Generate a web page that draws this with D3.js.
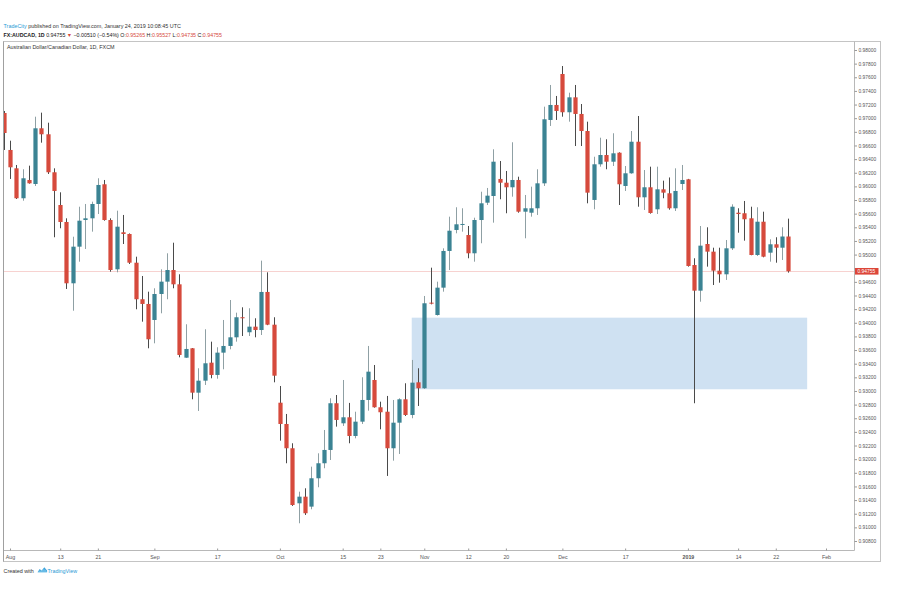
<!DOCTYPE html>
<html><head><meta charset="utf-8">
<script src="https://cdnjs.cloudflare.com/ajax/libs/d3/7.8.5/d3.min.js"></script>
<style>
body{margin:0;background:#fff}
svg{display:block}
text{font-family:"Liberation Sans",Arial,sans-serif}
</style>
</head><body>
<svg id="chart" width="900" height="600"></svg>
<script>
// ---------- DATA (AUDCAD daily, FXCM) ----------
const firstDay = "2018-07-31";
const lastDay = "2019-02-01";
const holidays = ["2018-12-25", "2019-01-01"];

const opens = [
0.97076,
0.96534,0.96265,0.95826,0.96094,0.96035,0.96852,0.96764,0.96207,0.95727,0.95478,
0.94579,0.95116,0.95507,0.95532,0.95742,0.96031,0.95507,0.94784,0.95327,0.95302,
0.94881,0.94345,0.94276,0.94041,0.94422,0.94603,0.94774,0.94564,0.93488,0.93626,
0.92975,0.93151,0.93415,0.93235,0.93562,0.93660,0.93787,0.94081,0.93861,0.93943,
0.93894,0.94452,0.93972,0.92828,0.92516,0.92160,0.91353,0.91450,0.91304,0.91720,
0.91940,0.92135,0.92820,0.92526,0.92614,0.92340,0.92550,0.92868,0.93161,0.92761,
0.92696,0.92160,0.92535,0.92878,0.92648,0.93127,0.93040,0.94295,0.94114,0.94515,
0.95053,0.95361,0.95444,0.95287,0.95019,0.95507,0.95761,0.95859,0.96109,0.96054,
0.95987,0.96094,0.95629,0.95614,0.95679,0.96045,0.96974,0.97194,0.97648,0.97087,
0.97306,0.97062,0.96812,0.95801,0.96324,0.96460,0.96362,0.96494,0.96006,0.96192,
0.96655,0.95840,0.95987,0.95664,0.95957,0.95899,0.95679,0.96035,0.96104,0.94847,
0.94471,0.95155,0.95043,0.94764,0.94711,0.95092,0.95614,0.95606,0.95532,0.94994,
0.95482,0.95028,0.95151,0.95101,0.95265
];
const highs = [
0.97106,
0.96670,0.96314,0.96251,0.96304,0.97022,0.97081,0.96934,0.96265,0.95913,0.95532,
0.95262,0.95702,0.95742,0.95776,0.96119,0.96094,0.95532,0.95644,0.95581,0.95310,
0.94969,0.94686,0.94456,0.94506,0.94784,0.95019,0.95174,0.94711,0.93978,0.93630,
0.93333,0.93905,0.93723,0.93641,0.94041,0.94334,0.94148,0.94227,0.94213,0.94066,
0.94911,0.94740,0.94081,0.93073,0.92663,0.92233,0.91523,0.91573,0.91890,0.92086,
0.92428,0.92893,0.92941,0.93161,0.92825,0.92696,0.93201,0.93660,0.93381,0.92843,
0.92927,0.92868,0.92893,0.93113,0.93455,0.93333,0.94393,0.94808,0.94603,0.95092,
0.95556,0.95694,0.95679,0.95419,0.95541,0.95922,0.95977,0.96544,0.96372,0.96226,
0.96647,0.96142,0.95874,0.95996,0.96251,0.97169,0.97487,0.97326,0.97765,0.97374,
0.97487,0.97208,0.96949,0.96435,0.96714,0.96691,0.96779,0.96500,0.96299,0.96812,
0.97032,0.96240,0.96289,0.96289,0.96084,0.96131,0.96265,0.96314,0.96110,0.94946,
0.95419,0.95400,0.95101,0.95101,0.95214,0.95737,0.95679,0.95786,0.95702,0.95694,
0.95629,0.95224,0.95254,0.95400,0.95527
];
const lows = [
0.96534,
0.96109,0.95815,0.95790,0.96040,0.96006,0.96641,0.96182,0.95254,0.95386,0.94496,
0.94177,0.94896,0.95082,0.95336,0.95595,0.95497,0.94749,0.94740,0.95155,0.94862,
0.94198,0.94016,0.93626,0.93699,0.94139,0.94345,0.94506,0.93494,0.93485,0.92878,
0.92707,0.93088,0.93186,0.93180,0.93318,0.93611,0.93723,0.93806,0.93806,0.93787,
0.93821,0.93965,0.93127,0.92271,0.91940,0.91314,0.91060,0.91182,0.91265,0.91588,
0.91867,0.91988,0.92477,0.92487,0.92233,0.92306,0.92516,0.92711,0.92755,0.92438,
0.91754,0.91978,0.92076,0.92633,0.92600,0.92780,0.93029,0.94270,0.94105,0.94456,
0.94774,0.95312,0.95336,0.94946,0.94896,0.95166,0.95727,0.95468,0.95811,0.95606,
0.95849,0.95614,0.95239,0.95556,0.95581,0.96006,0.96886,0.96974,0.97022,0.96949,
0.96592,0.96592,0.95752,0.95664,0.96289,0.96251,0.96299,0.95727,0.95933,0.96185,
0.95702,0.95654,0.95600,0.95595,0.95826,0.95658,0.95639,0.95947,0.94823,0.92820,
0.94309,0.94823,0.94554,0.94588,0.94628,0.95067,0.95321,0.95204,0.94990,0.94979,
0.94960,0.94896,0.94881,0.94921,0.94735
];
const closes = [
0.96783,
0.96280,0.95826,0.96119,0.96045,0.96852,0.96764,0.96207,0.95933,0.95478,0.94579,
0.95116,0.95497,0.95532,0.95742,0.96021,0.95507,0.94774,0.95409,0.95302,0.94881,
0.94345,0.94276,0.93758,0.94422,0.94603,0.94774,0.94564,0.93528,0.93616,0.92975,
0.93151,0.93406,0.93235,0.93562,0.93660,0.93787,0.94081,0.94066,0.93943,0.93894,
0.94452,0.93972,0.93224,0.92516,0.92160,0.91328,0.91450,0.91207,0.91720,0.91940,
0.92135,0.92820,0.92575,0.92614,0.92340,0.92550,0.92868,0.93283,0.92761,0.92688,
0.92160,0.92535,0.92878,0.92648,0.93122,0.93040,0.94286,0.94280,0.94515,0.95053,
0.95350,0.95444,0.95449,0.95019,0.95507,0.95752,0.95864,0.96362,0.96054,0.95987,
0.96094,0.95629,0.95679,0.95679,0.96045,0.96984,0.97194,0.97106,0.97087,0.97306,
0.97062,0.96812,0.95908,0.96324,0.96460,0.96362,0.96485,0.96031,0.96192,0.96655,
0.95840,0.95987,0.95610,0.95957,0.95908,0.95679,0.95933,0.96094,0.94833,0.94471,
0.95131,0.95043,0.94764,0.94711,0.95092,0.95702,0.95595,0.95518,0.94994,0.95482,
0.94969,0.95151,0.95101,0.95265,0.94755
];

const timeTickDates = ["2018-08-01","2018-08-13","2018-08-21","2018-09-03","2018-09-17","2018-10-01","2018-10-15","2018-10-23","2018-11-01","2018-11-12","2018-11-20","2018-12-03","2018-12-17","2019-01-02","2019-01-14","2019-01-22","2019-02-01"];
const timeTickLabels = ["Aug","13","21","Sep","17","Oct","15","23","Nov","12","20","Dec","17","2019","14","22","Feb"];
const priceMin = 0.908, priceMax = 0.980, priceStep = 0.002;

const zoneTop = 0.94075, zoneBottom = 0.93025;
const zoneStart = "2018-10-30", zoneEnd = "2019-01-29";

const symbolName = "FX:AUDCAD, 1D";
const instrumentTitle = "Australian Dollar/Canadian Dollar, 1D, FXCM";
const publishLine = " published on TradingView.com, January 24, 2019 10:08:45 UTC";
const author = "TradeCity";

// ---------- STYLE ----------
const UP = "#3b8393", DOWN = "#d64a3c", UPWICK = "#8fa0a4", DOWNWICK = "#4a4a4a";
const AXISTEXT = "#555";
const pane = {l:3.5, t:41.5, r:854.5, b:550.5};
const outer = {r:880.5, b:561.5};

// ---------- BUILD ----------
const fmtDay = d3.utcFormat("%Y-%m-%d");
const days = d3.utcDays(new Date(firstDay+"T00:00:00Z"), d3.utcDay.offset(new Date(lastDay+"T00:00:00Z"),1))
  .filter(d => d.getUTCDay()!==0 && d.getUTCDay()!==6)
  .map(fmtDay).filter(s => !holidays.includes(s));

const candles = opens.map((o,i)=>({date:days[i], o, h:highs[i], l:lows[i], c:closes[i]}));
const last = candles[candles.length-1], prev = candles[candles.length-2];

const x = d3.scalePoint().domain(days).range([3.72, 826]);
const y = d3.scaleLinear().domain([priceMin, priceMax]).range([541, 50]);
const bodyW = 4.2;

const svg = d3.select("#chart");
svg.append("rect").attr("width",900).attr("height",600).attr("fill","#fff");

// header
const h1 = svg.append("text").attr("x",3.5).attr("y",28).attr("font-size",5.4).attr("fill","#333");
h1.append("tspan").attr("fill","#2a9ad6").text(author);
h1.append("tspan").text(publishLine);

const chg = last.c - prev.c;
const f5 = d3.format(".5f");
const h2 = svg.append("text").attr("x",3.5).attr("y",36.7).attr("font-size",5.3).attr("fill","#222");
h2.append("tspan").attr("font-weight","bold").text(symbolName);
h2.append("tspan").text(" " + f5(last.c) + " ");
h2.append("tspan").attr("fill",DOWN).text("▼");
h2.append("tspan").text(" −" + f5(Math.abs(chg)) + " (−" + d3.format(".2f")(Math.abs(chg)/prev.c*100) + "%) ");
[["O:",last.o],["H:",last.h],["L:",last.l],["C:",last.c]].forEach(([k,v],i)=>{
  h2.append("tspan").text((i? " ":"") + k);
  h2.append("tspan").attr("fill",DOWN).text(f5(v));
});

// frames
svg.append("rect").attr("x",pane.l).attr("y",pane.t).attr("width",outer.r-pane.l).attr("height",outer.b-pane.t)
  .attr("fill","none").attr("stroke","#c4c4c4").attr("stroke-width",1);
svg.append("line").attr("x1",pane.l).attr("x2",pane.r).attr("y1",pane.b).attr("y2",pane.b).attr("stroke","#b8b8b8");
svg.append("line").attr("x1",pane.r).attr("x2",pane.r).attr("y1",pane.t).attr("y2",pane.b).attr("stroke","#b8b8b8");
svg.append("line").attr("x1",pane.l).attr("x2",pane.l).attr("y1",pane.t).attr("y2",outer.b).attr("stroke","#a0a0a0");

svg.append("defs").append("clipPath").attr("id","clip").append("rect")
  .attr("x",pane.l+0.5).attr("y",pane.t+0.5).attr("width",pane.r-pane.l-1).attr("height",pane.b-pane.t-1);
const plot = svg.append("g").attr("clip-path","url(#clip)");

// demand zone
plot.append("rect")
  .attr("x",x(zoneStart)).attr("width",x(zoneEnd)-x(zoneStart))
  .attr("y",y(zoneTop)).attr("height",y(zoneBottom)-y(zoneTop))
  .attr("fill","#cfe1f2");

// last price line
plot.append("line").attr("x1",pane.l).attr("x2",pane.r)
  .attr("y1",Math.round(y(last.c))+0.5).attr("y2",Math.round(y(last.c))+0.5)
  .attr("stroke","#f7d2d0").attr("stroke-width",1);

// candles
const cg = plot.selectAll("g.candle").data(candles).join("g").attr("class","candle");
cg.append("line")
  .attr("x1",d=>Math.round(x(d.date))+0.5).attr("x2",d=>Math.round(x(d.date))+0.5)
  .attr("y1",d=>y(d.h)).attr("y2",d=>y(d.l))
  .attr("stroke",d=>d.c>=d.o?UPWICK:DOWNWICK).attr("stroke-width",1);
cg.append("rect")
  .attr("x",d=>Math.round(x(d.date))+0.5-bodyW/2).attr("width",bodyW)
  .attr("y",d=>y(Math.max(d.o,d.c)))
  .attr("height",d=>Math.max(1,Math.abs(y(d.o)-y(d.c))))
  .attr("fill",d=>d.c>=d.o?UP:DOWN);

// title in pane
svg.append("text").attr("x",7).attr("y",49).attr("font-size",5.4).attr("fill","#333").text(instrumentTitle);

// price axis
const priceTicks = d3.range(0, Math.round((priceMax-priceMin)/priceStep)+1).map(i=>+(priceMin+i*priceStep).toFixed(3));
const yAxis = d3.axisRight(y).tickValues(priceTicks).tickSize(2.5).tickPadding(1.5).tickFormat(f5);
const ya = svg.append("g").attr("transform",`translate(${pane.r},0)`).call(yAxis);
ya.select(".domain").remove();
ya.selectAll(".tick line").attr("stroke","#999");
ya.selectAll(".tick text").attr("font-size",4.9).attr("fill",AXISTEXT).attr("font-family","Liberation Sans, Arial, sans-serif")
  .style("display",d=>Math.abs(y(d)-y(last.c))<6?"none":null);

// last price tag
svg.append("rect").attr("x",pane.r+0.5).attr("y",y(last.c)-3.3).attr("width",23.5).attr("height",6.6).attr("fill","#dc4639");
svg.append("text").attr("x",pane.r+3).attr("y",y(last.c)).attr("dy","0.35em").attr("font-size",4.9).attr("fill","#fff").text(f5(last.c));

// time axis
const xAxis = d3.axisBottom(x).tickValues(timeTickDates).tickSize(2).tickPadding(5.2)
  .tickFormat((d,i)=>timeTickLabels[i]);
const xa = svg.append("g").attr("transform",`translate(0,${pane.b-2})`).call(xAxis);
xa.select(".domain").remove();
xa.selectAll(".tick line").attr("stroke","#999");
xa.selectAll(".tick text").attr("font-size",5.3).attr("fill",AXISTEXT).attr("font-family","Liberation Sans, Arial, sans-serif")
  .attr("font-weight",(d,i)=>timeTickLabels[i]==="2019"?"bold":null);

// footer
svg.append("text").attr("x",3.5).attr("y",572.5).attr("font-size",5.4).attr("fill","#333").text("Created with");
const logo = svg.append("g").attr("transform","translate(37.5,567.3)");
logo.append("path").attr("d","M0,5 L2.2,1.6 L4.2,3.4 L6.8,0 L9.6,3.2 L9.6,5 Z").attr("fill","#3aa3dc");
logo.append("path").attr("d","M0.5,5 C0.5,3.2 2.5,2.6 3.6,3.6 C4.4,1.2 8.6,1.4 9.2,4 L9.2,5 Z").attr("fill","#7cc4ea").attr("opacity",0.7);
svg.append("text").attr("x",47.5).attr("y",572.5).attr("font-size",5.4).attr("fill","#2a9ad6").text("TradingView");
</script>
</body></html>
